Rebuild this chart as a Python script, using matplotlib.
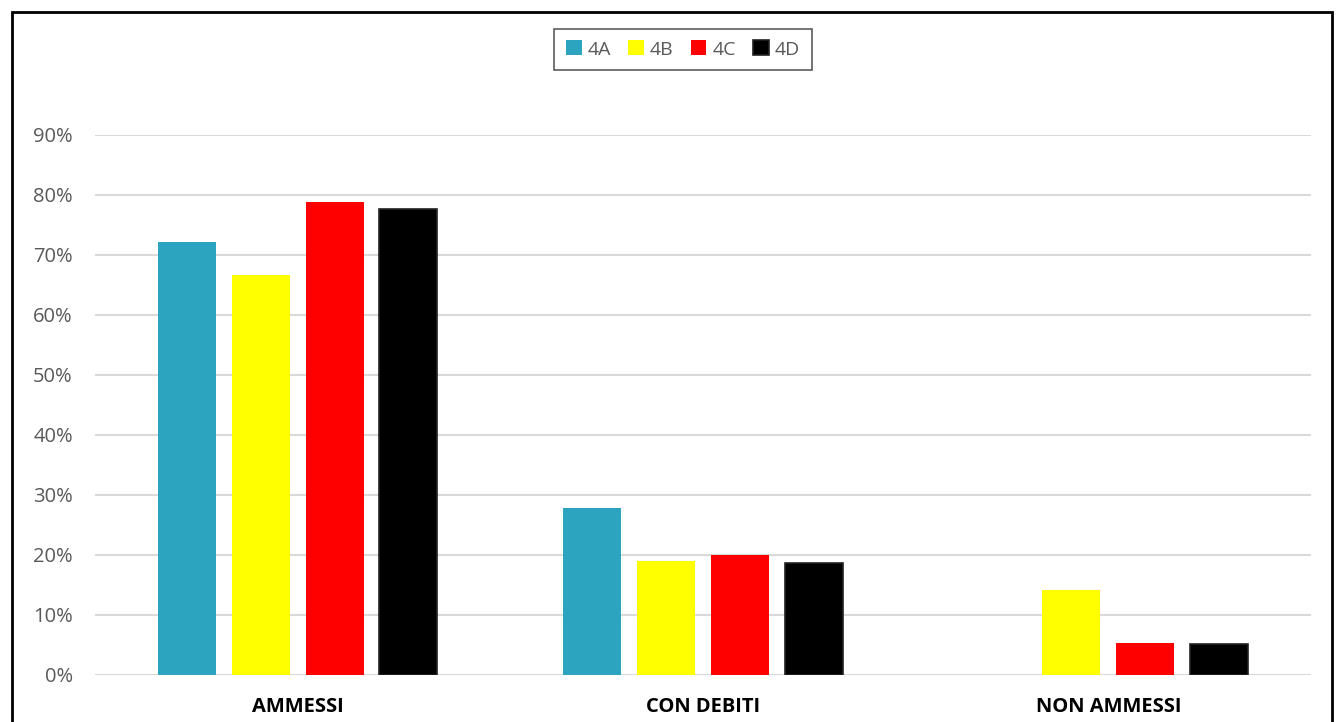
import matplotlib
matplotlib.use("Agg")
import matplotlib.pyplot as plt
import numpy as np
from matplotlib.patches import Rectangle

categories = ["AMMESSI", "CON DEBITI", "NON AMMESSI"]
series = ["4A", "4B", "4C", "4D"]
v_4A = [72.2, 27.8, 0.0]
v_4B = [66.7, 19.0, 14.2]
v_4C = [78.9, 20.0, 5.3]
v_4D = [77.7, 18.6, 5.1]
colors = ["#2CA3BF", "#FFFF00", "#FF0000", "#000000"]
yticks = [0, 10, 20, 30, 40, 50, 60, 70, 80, 90]

plt.rcParams['font.family'] = ['Open Sans', 'DejaVu Sans']

fig = plt.figure(figsize=(13.39, 7.22), dpi=100)
ax = fig.add_axes([95/1339, 1-675/722, (1311-95)/1339, (675-135)/722])

x = np.arange(len(categories))
width = 0.143
step = 0.182
offsets = [-1.5*step, -0.5*step, 0.5*step, 1.5*step]
for vals, name, c, off in zip([v_4A, v_4B, v_4C, v_4D], series, colors, offsets):
    if name == "4D":
        ax.bar(x + off, vals, width=width, color=c, label=name, edgecolor="#222222",
               linewidth=1.2, zorder=3)
    else:
        ax.bar(x + off, vals, width=width, color=c, label=name, zorder=3)

ax.set_xlim(-0.5, 2.5)
ax.set_ylim(0, 90)
ax.set_yticks(yticks)
ax.set_yticklabels([f"{t}%" for t in yticks], color="#595959", fontsize=14.5)
ax.set_xticks(x)
ax.set_xticklabels(categories, fontsize=14.5, fontweight="bold", color="black")
ax.tick_params(axis="both", length=0)
ax.tick_params(axis="y", pad=16)
ax.tick_params(axis="x", pad=16)
ax.grid(axis="y", color="#D9D9D9", linewidth=1.5, zorder=0)
for s in ax.spines.values():
    s.set_visible(False)

leg = ax.legend(loc="center", bbox_to_anchor=((683-95)/(1311-95), (675-49.5)/540),
                ncol=4, frameon=True, fontsize=14, handlelength=0.8, handleheight=0.8,
                handletextpad=0.3, columnspacing=0.9, borderpad=0.6, fancybox=False,
                labelcolor="#595959")
leg.get_frame().set_edgecolor("#333333")
leg.get_frame().set_linewidth(1.2)

fig.patches.append(Rectangle((12/1339, -0.05), (1332-12)/1339, 1.05 - 12/722,
                             transform=fig.transFigure, fill=False, edgecolor="black",
                             linewidth=2))

fig.savefig("out.png", dpi=100)
